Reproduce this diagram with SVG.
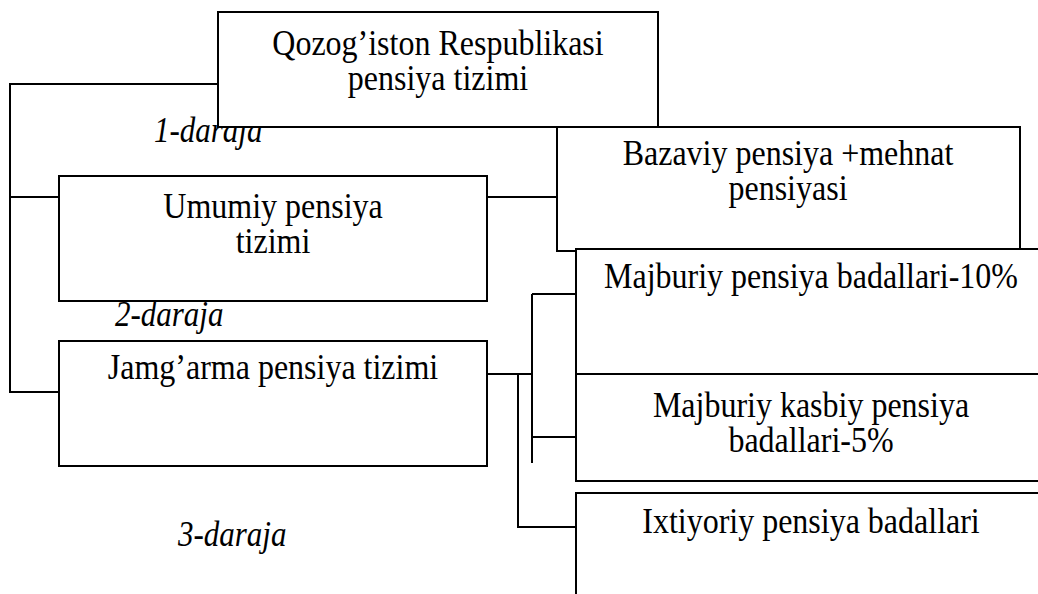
<svg xmlns="http://www.w3.org/2000/svg" width="1038" height="594" viewBox="0 0 1038 594">
  <style>
    .box { fill: #ffffff; stroke: #000000; stroke-width: 2; }
    .wire { fill: none; stroke: #000000; stroke-width: 2; }
    .t { font-family: "Liberation Serif", "Times New Roman", serif; font-size: 32px; fill: #000000; text-anchor: middle; }
    .lvl { font-family: "Liberation Serif", "Times New Roman", serif; font-size: 31px; font-style: italic; fill: #000000; }
  </style>
  <rect x="0" y="0" width="1038" height="594" fill="#ffffff"/>

  <!-- level captions (partly covered by the top box); glyphs are set slightly tall -->
  <g id="levels">
    <text class="lvl" transform="matrix(1 0 0 1.13 154 142)">1-daraja</text>
    <text class="lvl" transform="matrix(1 0 0 1.13 115 326)">2-daraja</text>
    <text class="lvl" transform="matrix(1 0 0 1.13 178 546)">3-daraja</text>
  </g>

  <g id="connectors">
    <path class="wire" d="M218,84 H10 V392 H59"/>
    <path class="wire" d="M10,197 H59"/>
    <path class="wire" d="M487,197 H557"/>
    <path class="wire" d="M487,374 H532"/>
    <path class="wire" d="M532,294 V463"/>
    <path class="wire" d="M532,294 H576"/>
    <path class="wire" d="M532,437 H576"/>
    <path class="wire" d="M518,374 V527 H576"/>
  </g>

  <g id="node-bazaviy">
    <rect class="box" x="557" y="127" width="463" height="124"/>
    <text class="t" transform="matrix(1 0 0 1.13 788 165)">Bazaviy pensiya +mehnat</text>
    <text class="t" transform="matrix(1 0 0 1.13 788 200)">pensiyasi</text>
  </g>

  <g id="node-root">
    <rect class="box" x="218" y="12" width="440" height="115"/>
    <text class="t" transform="matrix(1 0 0 1.13 438 55)">Qozog’iston Respublikasi</text>
    <text class="t" transform="matrix(1 0 0 1.13 438 90)">pensiya tizimi</text>
  </g>

  <g id="node-umumiy">
    <rect class="box" x="59" y="176" width="428" height="125"/>
    <text class="t" transform="matrix(1 0 0 1.13 273 218)">Umumiy pensiya</text>
    <text class="t" transform="matrix(1 0 0 1.13 273 253)">tizimi</text>
  </g>

  <g id="node-jamgarma">
    <rect class="box" x="59" y="341" width="428" height="125"/>
    <text class="t" transform="matrix(1 0 0 1.13 273 379)">Jamg’arma pensiya tizimi</text>
  </g>

  <g id="node-majburiy">
    <rect class="box" x="576" y="249" width="480" height="125"/>
    <text class="t" transform="matrix(1 0 0 1.13 811 288)">Majburiy pensiya badallari-10%</text>
  </g>

  <g id="node-kasbiy">
    <rect class="box" x="576" y="374" width="480" height="107"/>
    <text class="t" transform="matrix(1 0 0 1.13 811 417)">Majburiy kasbiy pensiya</text>
    <text class="t" transform="matrix(1 0 0 1.13 811 452)">badallari-5%</text>
  </g>

  <g id="node-ixtiyoriy">
    <rect class="box" x="576" y="493" width="480" height="120"/>
    <text class="t" transform="matrix(1 0 0 1.13 811 533)">Ixtiyoriy pensiya badallari</text>
  </g>
</svg>
